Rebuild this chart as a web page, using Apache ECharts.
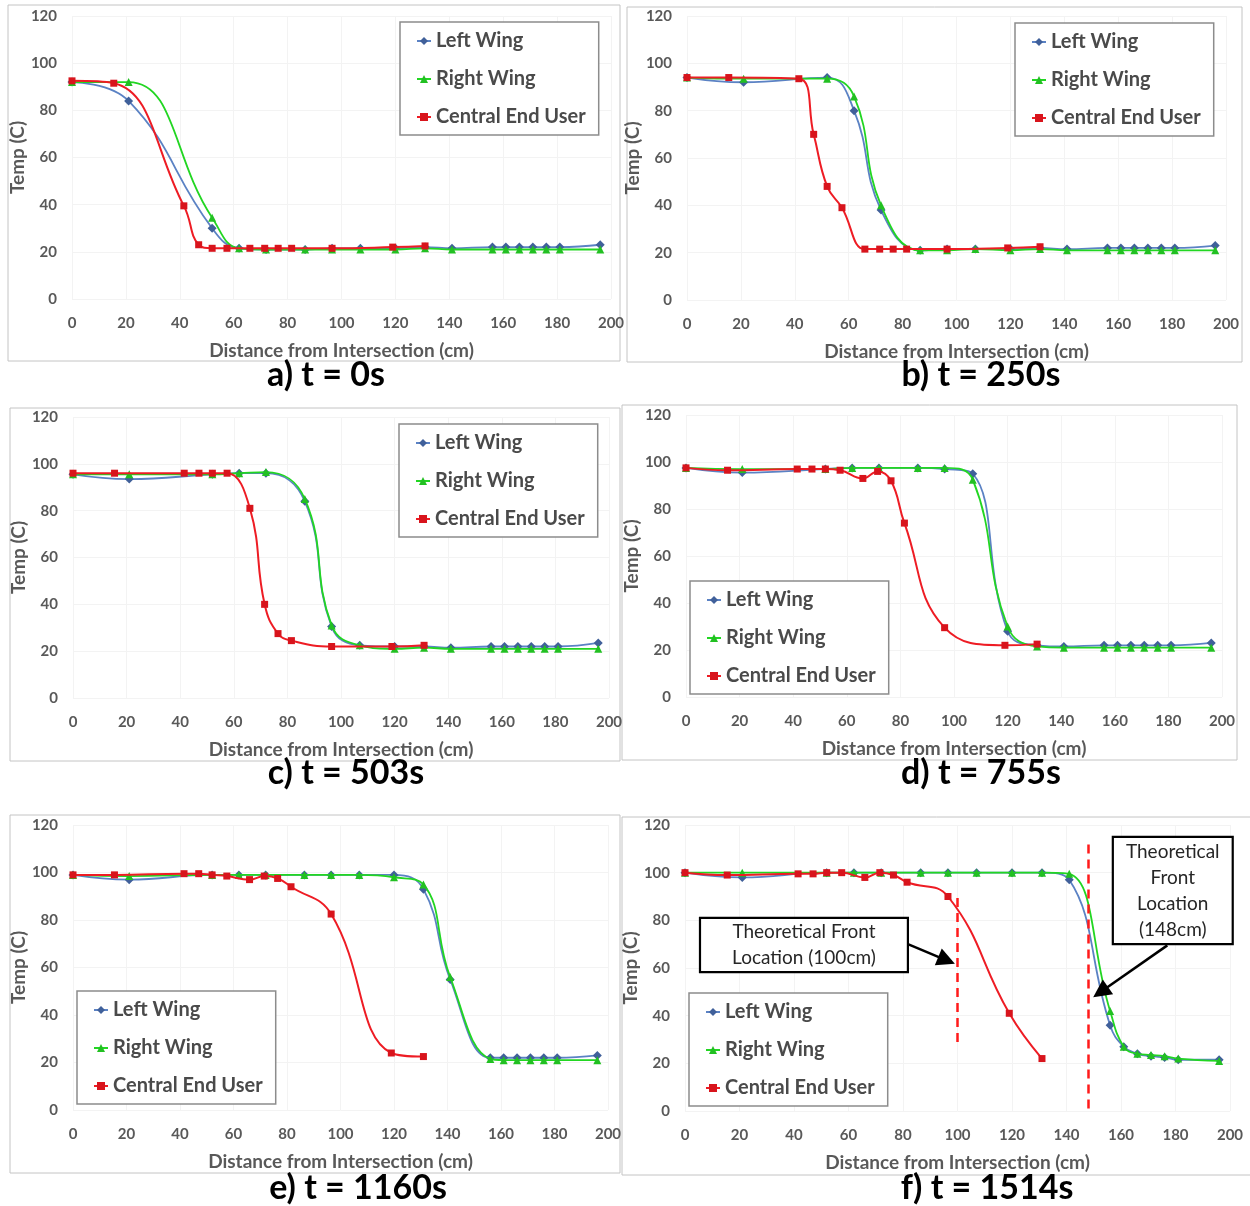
<!DOCTYPE html>
<html>
<head>
<meta charset="utf-8">
<script src="https://cdn.jsdelivr.net/npm/echarts@6/dist/echarts.min.js"></script>
<style>
  html, body { margin: 0; padding: 0; background: #fff; }
  #main { width: 1250px; height: 1206px; }
</style>
</head>
<body>
<div id="main"></div>
<script>
// sensor positions (cm)
const wingX = [0, 21, 52, 62, 72, 86.5, 96.5, 107, 120, 131, 141, 156, 161, 166, 171, 176, 181, 196];
const centralX = [0, 15.5, 41.5, 47, 52, 57.5, 66, 71.5, 76.5, 81.5, 96.5, 119, 131];

// a) t = 0s
const leftA = [92, 84, 30, 21.5, 21, 21, 21.5, 21.5, 21.5, 22, 21.5, 22, 22, 22, 22, 22, 22, 23];
const rightA = [92, 92, 34.5, 21.5, 21, 21, 21, 21, 21, 21.5, 21, 21, 21, 21, 21, 21, 21, 21];
const centralA = [92.5, 91.5, 39.5, 23, 21.5, 21.5, 21.5, 21.5, 21.5, 21.5, 21.5, 22, 22.5];
// b) t = 250s
const leftB = [94, 92, 94, 80, 38, 21, 21.5, 21.5, 21.5, 22, 21.5, 22, 22, 22, 22, 22, 22, 23];
const rightB = [94, 93.5, 93.5, 86, 40, 21, 21, 21.5, 21, 21.5, 21, 21, 21, 21, 21, 21, 21, 21];
const centralB = [94, 94, 93.5, 70, 48, 39, 21.5, 21.5, 21.5, 21.5, 21.5, 22, 22.5];
// c) t = 503s
const leftC = [95.5, 93.5, 95.5, 96, 96, 84, 30.5, 22.5, 22, 22, 21.5, 22, 22, 22, 22, 22, 22, 23.5];
const rightC = [95.5, 95.5, 95.5, 96, 96.5, 85, 31, 22.5, 21, 21.5, 21, 21, 21, 21, 21, 21, 21, 21];
const centralC = [96, 96, 96, 96, 96, 96, 81, 40, 27.5, 24.5, 22, 22, 22.5];
// d) t = 755s
const leftD = [97.5, 95.5, 97, 97.5, 97.5, 97.5, 97, 95, 28, 22, 21.5, 22, 22, 22, 22, 22, 22, 23];
const rightD = [97.5, 97, 97, 97.5, 97.5, 97.5, 97.5, 92.5, 30, 21.5, 21, 21, 21, 21, 21, 21, 21, 21];
const centralD = [97.5, 96.5, 97, 97, 97, 96.5, 93, 96, 92, 74, 29.5, 22, 22.5];
// e) t = 1160s
const leftE = [99, 97, 99, 99, 99, 99, 99, 99, 99, 93, 55, 22, 22, 22, 22, 22, 22, 23];
const rightE = [99, 98.5, 99, 99, 99, 99, 99, 99, 98, 95, 56, 21.5, 21, 21, 21, 21, 21, 21];
const centralE = [99, 99, 99.5, 99.5, 99, 98.5, 97, 98.5, 97.5, 94, 82.5, 24, 22.5];
// f) t = 1514s
const leftF = [100, 98, 100, 100, 100, 100, 100, 100, 100, 100, 97, 36, 27, 24, 23, 22.5, 21.5, 21.5];
const rightF = [100, 100, 100, 100, 100, 100, 100, 100, 100, 100, 99.5, 42, 27, 24, 23.5, 23, 22, 21];
const centralF = [100, 99, 99.5, 99.5, 100, 100, 98, 100, 99, 96, 90, 41, 22];

// theoretical front locations in f)
const frontLines = [
  { x: 100, from: 29, to: 91 },
  { x: 148, from: 1, to: 114 }
];

const seriesNames = ['Left Wing', 'Right Wing', 'Central End User'];
const FONT = 'Lato, "Open Sans", sans-serif';

const panels = [
  { label: 'a) t = 0s', data: [leftA, rightA, centralA], grid: { left: 72, top: 16, width: 539, height: 283 }, legend: { left: 400, top: 22 }, title: [326, 375], box: [8, 5, 612, 356] },
  { label: 'b) t = 250s', data: [leftB, rightB, centralB], grid: { left: 687, top: 16, width: 539, height: 284 }, legend: { left: 1015, top: 23 }, title: [981, 375], box: [627, 7, 615, 355] },
  { label: 'c) t = 503s', data: [leftC, rightC, centralC], grid: { left: 73, top: 417, width: 536, height: 281 }, legend: { left: 399, top: 424 }, title: [346, 773], box: [10, 408, 610, 353] },
  { label: 'd) t = 755s', data: [leftD, rightD, centralD], grid: { left: 686, top: 415, width: 536, height: 282 }, legend: { left: 690, top: 581 }, title: [981, 773], box: [622, 405, 615, 355] },
  { label: 'e) t = 1160s', data: [leftE, rightE, centralE], grid: { left: 73, top: 825, width: 535, height: 285 }, legend: { left: 77, top: 991 }, title: [358, 1188], box: [10, 815, 610, 358] },
  { label: 'f) t = 1514s', data: [leftF, rightF, centralF], grid: { left: 685, top: 825, width: 545, height: 286 }, legend: { left: 689, top: 993 }, title: [987, 1188], box: [622, 817, 640, 358] }
];

const styles = [
  { color: '#5b82c4', marker: '#40609a', symbol: 'diamond', size: 9 },
  { color: '#22d622', marker: '#22c022', symbol: 'triangle', size: 8 },
  { color: '#ee1c24', marker: '#d8141c', symbol: 'rect', size: 7 }
];

const grids = [], xAxes = [], yAxes = [], series = [], legends = [], graphics = [];

panels.forEach((p, i) => {
  grids.push(Object.assign({ containLabel: false }, p.grid));
  xAxes.push({
    type: 'value', gridIndex: i, min: 0, max: 200, interval: 20,
    name: 'Distance from Intersection (cm)', nameLocation: 'middle', nameGap: 42,
    nameTextStyle: { fontFamily: FONT, fontSize: 19, fontWeight: 'bold', color: '#595959' },
    axisLine: { show: false }, axisTick: { show: false },
    axisLabel: { margin: 17, fontFamily: FONT, fontSize: 15, fontWeight: 'bold', color: '#595959' },
    splitLine: { show: true, lineStyle: { color: '#f3f3f3' } }
  });
  yAxes.push({
    type: 'value', gridIndex: i, min: 0, max: 120, interval: 20,
    name: 'Temp (C)', nameLocation: 'middle', nameGap: 40,
    nameTextStyle: { fontFamily: FONT, fontSize: 19, fontWeight: 'bold', color: '#595959' },
    axisLine: { show: false }, axisTick: { show: false },
    axisLabel: { margin: 15, fontFamily: FONT, fontSize: 15, fontWeight: 'bold', color: '#595959' },
    splitLine: { show: true, lineStyle: { color: '#f3f3f3' } }
  });
  p.data.forEach((vals, k) => {
    const xs = k < 2 ? wingX : centralX;
    const st = styles[k];
    series.push({
      name: seriesNames[k], type: 'line', xAxisIndex: i, yAxisIndex: i,
      smooth: 0.45, symbol: st.symbol, symbolSize: st.size, showSymbol: true,
      lineStyle: { color: st.color, width: k === 2 ? 2 : 1.8 },
      itemStyle: { color: st.marker },
      data: vals.map((v, j) => [xs[j], v]),
      z: 2 + k
    });
  });
  legends.push({
    left: p.legend.left, top: p.legend.top, orient: 'vertical',
    data: seriesNames, itemWidth: 14, itemHeight: 10, itemGap: 18,
    padding: [9, 13, 8, 16], borderColor: '#8c8c8c', borderWidth: 1.5,
    backgroundColor: '#fff',
    textStyle: { fontFamily: FONT, fontSize: 20, fontWeight: 'bold', color: '#4a4a4a', lineHeight: 20 }
  });
  graphics.push({
    type: 'rect', silent: true, z: -1,
    shape: { x: p.box[0], y: p.box[1], width: p.box[2], height: p.box[3] },
    style: { fill: 'none', stroke: '#c4c4c4', lineWidth: 1 }
  });
  graphics.push({
    type: 'text', silent: true,
    x: p.title[0], y: p.title[1],
    style: { text: p.label, align: 'center', verticalAlign: 'middle', font: 'bold 34px ' + FONT, fill: '#000' }
  });
});

// dashed front lines and arrows on panel f
const fi = series.length - 1;
series[fi].markLine = {
  silent: true, symbol: 'none', animation: false, label: { show: false },
  lineStyle: { color: '#ff1a1a', width: 2.5, type: [9, 6] },
  data: frontLines.map(l => [{ coord: [l.x, l.from] }, { coord: [l.x, l.to] }])
};
series[fi - 1].markLine = {
  silent: true, symbol: ['none', 'triangle'], symbolSize: 18, animation: false,
  label: { show: false },
  lineStyle: { color: '#000', width: 2.5, type: 'solid' },
  itemStyle: { color: '#000' },
  data: [
    [{ coord: [81.8, 70] }, { coord: [96, 63.2] }],
    [{ coord: [177, 69.5] }, { coord: [152.5, 49.9] }]
  ]
};

const chart = echarts.init(document.getElementById('main'), null, { renderer: 'canvas' });
chart.setOption({
  backgroundColor: '#fff',
  animation: false,
  grid: grids, xAxis: xAxes, yAxis: yAxes, series: series, legend: legends,
  graphic: graphics
});

// text boxes anchored in panel f data coordinates
function boxFrom(x0, y0, x1, y1, lines) {
  const a = chart.convertToPixel({ gridIndex: 5 }, [x0, y0]);
  const b = chart.convertToPixel({ gridIndex: 5 }, [x1, y1]);
  return [
    { type: 'rect', silent: true, z: 10,
      shape: { x: a[0], y: a[1], width: b[0] - a[0], height: b[1] - a[1] },
      style: { fill: '#fff', stroke: '#000', lineWidth: 2.2 } },
    { type: 'text', silent: true, z: 11,
      x: (a[0] + b[0]) / 2, y: (a[1] + b[1]) / 2,
      style: { text: lines.join('\n'), align: 'center', verticalAlign: 'middle',
        font: '19px ' + FONT, lineHeight: 26, fill: '#262626' } }
  ];
}
const notes = boxFrom(5.5, 81, 81.8, 58.3, ['Theoretical Front', 'Location (100cm)'])
  .concat(boxFrom(157, 115, 201, 70, ['Theoretical', 'Front', 'Location', '(148cm)']));
chart.setOption({ graphic: graphics.concat(notes) });
</script>
</body>
</html>
